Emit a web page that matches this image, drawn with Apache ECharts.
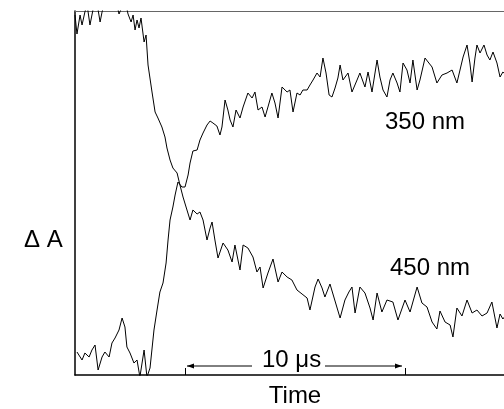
<!DOCTYPE html>
<html><head><meta charset="utf-8">
<script src="https://cdn.jsdelivr.net/npm/echarts@6/dist/echarts.min.js"></script>
<style>html,body{margin:0;padding:0;background:#fff}#c{width:504px;height:409px}</style>
</head><body><div id="c"></div>
<script>
// Time in microseconds, absorbance change in arbitrary units
const time450 = [0.00,0.09,0.23,0.32,0.45,0.55,0.68,0.77,0.86,1.00,1.14,1.23,1.32,1.59,1.91,2.00,2.09,2.18,2.32,2.41,2.55,2.64,2.73,2.82,2.91,3.00,3.14,3.23,3.32,3.50,3.64,3.77,3.95,4.09,4.18,4.32,4.45,4.64,4.77,4.91,5.09,5.23,5.36,5.55,5.68,5.82,6.00,6.14,6.23,6.36,6.50,6.73,6.95,7.14,7.27,7.50,7.64,7.86,8.09,8.27,8.41,8.55,8.77,9.00,9.23,9.41,9.64,9.86,10.09,10.32,10.55,10.68,10.91,11.05,11.23,11.36,11.59,11.82,12.05,12.27,12.45,12.59,12.73,12.95,13.18,13.41,13.55,13.73,13.95,14.18,14.45,14.68,15.00,15.23,15.55,15.77,16.00,16.23,16.45,16.59,16.82,17.05,17.18,17.36,17.59,17.82,18.05,18.27,18.50,18.73,18.95,19.18,19.32,19.45,19.59];
const dA450 = [360,341,360,350,363,370,350,360,370,372,353,363,370,374,370,361,363,370,370,361,353,360,345,355,347,357,333,340,310,283,263,257,248,238,227,215,207,202,190,178,165,155,165,161,163,155,135,147,153,135,117,132,125,113,130,105,130,127,118,103,108,87,102,116,93,103,98,95,85,81,77,65,88,96,87,78,91,74,57,75,83,88,62,88,82,67,55,82,63,75,73,55,75,63,88,72,68,53,46,64,53,50,38,67,59,75,62,65,59,62,73,47,61,56,60];
const time350 = [0.09,0.18,0.32,0.45,0.64,0.77,0.91,1.05,1.23,1.36,1.55,1.68,1.82,2.00,2.14,2.27,2.36,2.50,2.68,2.82,2.95,3.14,3.27,3.41,3.59,3.73,3.86,4.00,4.14,4.23,4.32,4.45,4.55,4.68,4.86,5.00,5.14,5.23,5.36,5.55,5.68,5.82,6.00,6.14,6.27,6.45,6.59,6.68,6.82,6.95,7.05,7.18,7.32,7.50,7.64,7.73,7.86,8.05,8.18,8.32,8.50,8.64,8.77,8.95,9.09,9.23,9.41,9.64,9.77,9.91,10.09,10.23,10.36,10.55,10.68,10.82,11.00,11.14,11.27,11.41,11.55,11.68,11.82,11.95,12.05,12.18,12.41,12.59,12.82,12.95,13.18,13.32,13.50,13.73,13.86,14.00,14.18,14.32,14.45,14.64,14.77,14.91,15.09,15.23,15.36,15.55,15.68,15.91,16.05,16.23,16.45,16.68,16.91,17.14,17.36,17.50,17.64,17.82,17.95,18.05,18.18,18.27,18.41,18.59,18.73,18.86,19.00,19.18,19.32,19.45,19.59];
const dA350 = [23,25,15,22,18,25,30,5,18,23,18,32,37,45,57,48,28,22,12,15,-2,25,-2,7,45,65,83,92,112,135,155,168,180,193,188,188,200,212,224,225,235,242,250,254,252,249,240,248,275,265,255,248,265,257,268,269,282,277,283,265,268,258,268,282,272,257,288,283,285,263,282,280,285,285,290,295,302,298,317,302,280,278,287,297,310,295,302,283,295,302,288,303,283,315,298,285,278,295,302,292,283,312,305,292,315,285,295,317,313,308,292,300,302,305,292,305,318,330,312,293,317,330,322,330,320,315,323,312,298,303,300];
const scaleBar = [5, 15];       // 10 µs scale bar, in µs
const scaleTicks = [5, 15];

const FONT = '"Liberation Sans", Arial, Helvetica, sans-serif';
const chart = echarts.init(document.getElementById('c'), null, {renderer: 'canvas'});
const zip = (a, b) => a.map((t, i) => [t, b[i]]);
const lineSeries = (name, t, v) => ({
  name, type: 'line', data: zip(t, v), showSymbol: false, symbol: 'none',
  lineStyle: {color: '#000', width: 1}, clip: true, silent: true
});
chart.setOption({
  animation: false,
  grid: {left: 75, top: 11, width: 440, height: 364, outerBoundsMode: 'none', containLabel: false},
  xAxis: [
    {type: 'value', min: 0, max: 20, axisLine: {lineStyle: {color: '#000', width: 1.5}},
     axisTick: {show: true, inside: true, length: 7, customValues: scaleTicks, lineStyle: {color: '#000', width: 1}},
     axisLabel: {show: false}, splitLine: {show: false}},
    {type: 'value', position: 'top', min: 0, max: 20, axisLine: {lineStyle: {color: '#666', width: 1}},
     axisTick: {show: false}, axisLabel: {show: false}, splitLine: {show: false}}
  ],
  yAxis: {type: 'value', min: 0, max: 364, axisLine: {show: true, lineStyle: {color: '#000', width: 1.5}},
    axisTick: {show: false}, axisLabel: {show: false}, splitLine: {show: false}},
  series: [lineSeries('450 nm', time450, dA450), lineSeries('350 nm', time350, dA350)]
});

const p0 = chart.convertToPixel({xAxisIndex: 0, yAxisIndex: 0}, [scaleBar[0], 0]);
const p1 = chart.convertToPixel({xAxisIndex: 0, yAxisIndex: 0}, [scaleBar[1], 0]);
const ay = p0[1] - 9;
const mid = (p0[0] + p1[0]) / 2;
const txt = (s, x, y, align) => ({type: 'text', x, y, style: {text: s, font: '24px ' + FONT, fill: '#000', align: align || 'left', verticalAlign: 'middle'}, silent: true});
const arrowLine = (x1, x2) => ({type: 'line', shape: {x1, y1: ay, x2, y2: ay}, style: {stroke: '#000', lineWidth: 1}, silent: true});
const head = (x, dir) => ({type: 'polygon', shape: {points: [[x, ay], [x - dir * 7, ay - 2.5], [x - dir * 7, ay + 2.5]]}, style: {fill: '#000'}, silent: true});
chart.setOption({
  graphic: [
    arrowLine(p0[0] + 2, mid - 43), head(p0[0] + 2, -1),
    arrowLine(mid + 30, p1[0] - 3), head(p1[0] - 3, 1),
    txt('10 \u03bcs', mid - 33, p0[1] - 15),
    txt('Time', mid, 396, 'center'),
    txt('\u0394 A', 24, 240),
    txt('350 nm', 385, 122),
    txt('450 nm', 390, 268)
  ]
});
</script></body></html>
